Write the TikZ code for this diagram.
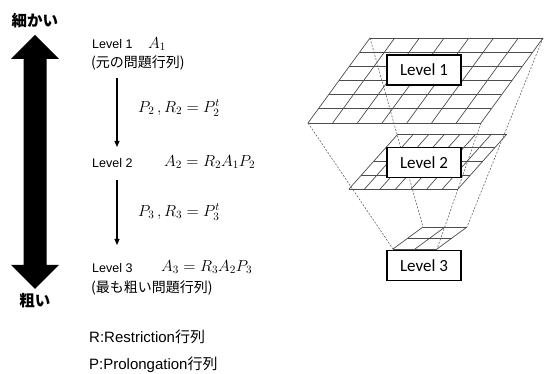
\RequirePackage{fix-cm}
\documentclass[tikz,border=0pt]{standalone}
\usepackage{fontspec}
\setmainfont{Liberation Sans}
\newfontfamily\jp{Noto Sans CJK JP}
\newfontfamily\calfont{Carlito}
\usetikzlibrary{arrows.meta}
\newcommand\mgrid[7]{%
  \foreach \i in {0,...,#6} \draw[gridline] ({#1+#5*\i/#6},#2) -- ({#3+#5*\i/#6},#4);
  \foreach \j in {0,...,#7} \draw[gridline] ({#1+(#3-#1)*\j/#7},{#2+(#4-#2)*\j/#7}) -- ++(#5,0);
}
\tikzset{
  gridline/.style={draw=black!70, line width=0.7pt},
  proj/.style={draw=black!60, dashed, dash pattern=on 2pt off 1.5pt, line width=0.6pt},
  levelbox/.style={draw=black, fill=white, line width=1.4pt, minimum width=74pt, minimum height=30pt, inner sep=0pt, font=\calfont\fontsize{17}{19}\selectfont},
  lbl/.style={anchor=west, inner sep=0pt, font=\fontsize{12.5}{14}\selectfont},
  jlbl/.style={anchor=west, inner sep=0pt, font=\jp\fontsize{14}{16}\selectfont},
  mth/.style={anchor=west, inner sep=0pt, font=\fontsize{16}{18}\selectfont},
  big/.style={anchor=west, inner sep=0pt, font=\fontsize{15}{17}\selectfont},
  coarse/.style={inner sep=0pt, font=\jp\bfseries\fontsize{15.5}{17}\selectfont},
  thinarrow/.style={-{Triangle[length=6pt,width=5pt]}, line width=1.1pt}
}
\begin{document}
\begin{tikzpicture}[x=1pt,y=-1pt]
\useasboundingbox (0,0) rectangle (544,374);
% big double arrow
\fill[black] (35,35) -- (59,59) -- (46.5,59) -- (46.5,265) -- (59,265) -- (35,289)
  -- (11,265) -- (23.5,265) -- (23.5,59) -- (11,59) -- cycle;
\node[coarse] (fine) at (35,21) {細かい};
\node[coarse] (rough) at (35,301) {粗い};
% left texts
\node[lbl] (l1) at (92,44) {Level 1};
\node[mth] (a1) at (148,44) {$A_1$};
\node[jlbl] (o1) at (91,63) {(元の問題行列)};
\node[mth] (p2) at (138,108) {$P_2\,,R_2=P_2^t$};
\node[lbl] (l2) at (92,163) {Level 2};
\node[mth] (a2) at (164,162) {$A_2=R_2A_1P_2$};
\node[mth] (p3) at (138,212) {$P_3\,,R_3=P_3^t$};
\node[lbl] (l3) at (92,268) {Level 3};
\node[mth] (a3) at (161,267) {$A_3=R_3A_2P_3$};
\node[jlbl] (o3) at (91,288) {(最も粗い問題行列)};
\node[big] (rr) at (89,337) {R:Restriction{\jp 行列}};
\node[big] (pp) at (89,365) {P:Prolongation{\jp 行列}};
\coordinate (s1) at (117,78);
\coordinate (e1) at (117,147);
\coordinate (s2) at (117,180);
\coordinate (e2) at (117,245);
\draw[thinarrow] (s1) -- (e1);
\draw[thinarrow] (s2) -- (e2);
% grids
\coordinate (g1bl) at (308,123); \coordinate (g1br) at (481,123);
\coordinate (g1tl) at (370,38);  \coordinate (g1tr) at (543,38);
\coordinate (g3bl) at (393,249); \coordinate (g3br) at (437,249);
\coordinate (g3tl) at (423,227); \coordinate (g3tr) at (467,227);
\draw[proj] (g1bl) -- (g3bl);
\draw[proj] (g1br) -- (g3br);
\draw[proj] (g1tl) -- (g3tl);
\draw[proj] (g1tr) -- (g3tr);
\mgrid{308}{123}{370}{38}{173}{7}{6}
\mgrid{349}{189}{398}{134}{109}{7}{4}
\mgrid{393}{249}{423}{227}{44}{2}{2}
\node[levelbox] (b1) at (424,70) {Level 1};
\node[levelbox] (b2) at (424,162.5) {Level 2};
\node[levelbox] (b3) at (424,265.5) {Level 3};
\end{tikzpicture}
\end{document}
